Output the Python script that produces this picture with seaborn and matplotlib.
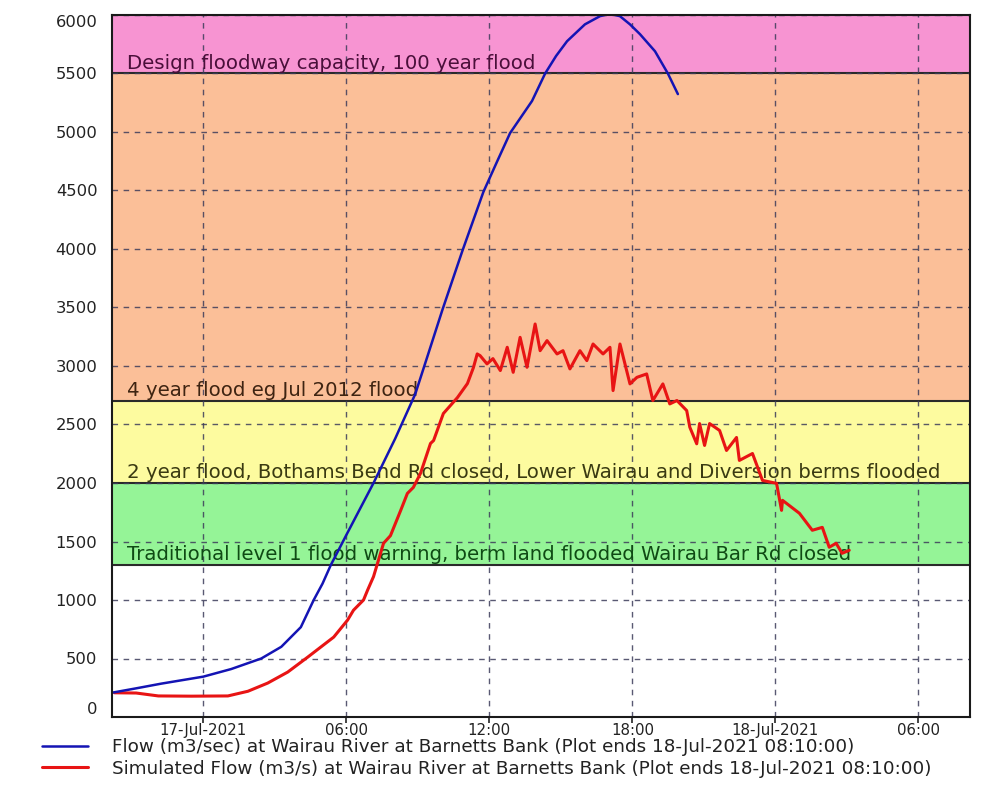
import numpy as np
import pandas as pd
import matplotlib
matplotlib.use("Agg")
import matplotlib.pyplot as plt
import matplotlib.dates as mdates
from matplotlib.ticker import FixedLocator, FuncFormatter
import seaborn as sns

# ---------------- data ----------------
base_time = "2021-07-17 00:00"
x_start = "2021-07-16 20:10"
x_end = "2021-07-18 08:10"

# Observed flow (hours after 17-Jul-2021 00:00, m3/s)
flow_hours = [-3.77, -2.82, -1.77, 0.0, 1.17, 2.43, 3.27, 4.09, 4.63, 5.0, 5.35, 6.01,
              6.60, 7.14, 8.05, 8.89, 9.43, 10.03, 10.87, 11.75, 12.33, 12.87, 13.79,
              14.34, 14.80, 15.26, 16.01, 16.64, 17.06, 17.48, 17.90, 18.32, 18.95,
              19.49, 19.91]
flow_vals = [210, 245, 285, 345, 410, 500, 600, 768, 1000, 1140, 1300, 1560,
             1790, 2000, 2380, 2760, 3100, 3480, 3985, 4488, 4750, 4991, 5265,
             5500, 5650, 5776, 5920, 5990, 6010, 5990, 5920, 5836, 5690,
             5500, 5324]

# Simulated flow
sim_hours = [-3.73, -2.82, -1.89, -0.51, 1.03, 1.87, 2.70, 3.54, 4.38, 5.47, 6.05, 6.30,
             6.72, 6.89, 7.14, 7.56, 7.85, 8.28, 8.56, 8.81, 9.11, 9.53, 9.66, 10.07,
             10.66, 11.08, 11.33, 11.49, 11.61, 11.90, 12.15, 12.46, 12.75, 13.00,
             13.29, 13.58, 13.92, 14.13, 14.42, 14.84, 15.09, 15.38, 15.80, 16.09,
             16.35, 16.77, 17.06, 17.19, 17.48, 17.90, 18.19, 18.60, 18.86, 19.28,
             19.57, 19.87, 20.28, 20.41, 20.70, 20.82, 21.03, 21.24, 21.66, 21.95,
             22.37, 22.49, 23.04, 23.46, 24.05, 24.26, 24.30, 25.01, 25.55, 25.97,
             26.26, 26.55, 26.80, 27.10]
sim_vals = [207, 205, 180, 178, 180, 220, 290, 384, 512, 683, 828, 913,
            1000, 1084, 1200, 1485, 1550, 1766, 1911, 1962, 2082, 2338, 2363, 2594,
            2730, 2850, 2986, 3103, 3089, 3018, 3063, 2961, 3160, 2946,
            3245, 2989, 3359, 3131, 3217, 3103, 3131, 2975, 3131, 3046,
            3188, 3103, 3160, 2790, 3188, 2847, 2903, 2932, 2705, 2847,
            2676, 2705, 2619, 2477, 2335, 2508, 2321, 2508, 2449, 2278,
            2389, 2193, 2252, 2022, 1997, 1766, 1852, 1741, 1596, 1621,
            1451, 1485, 1399, 1425]

# Flood bands
band_lows = [1300, 2000, 2700, 5500]
band_highs = [2000, 2700, 5500, 6000]
band_colors = ["#95f497", "#fdfb9f", "#fbbf98", "#f794d2"]
band_text_colors = ["#0f4a14", "#3a3a12", "#3e2412", "#4a0f3a"]
band_labels = [
    "Traditional level 1 flood warning, berm land flooded Wairau Bar Rd closed",
    "2 year flood, Bothams Bend Rd closed, Lower Wairau and Diversion berms flooded",
    "4 year flood eg Jul 2012 flood",
    "Design floodway capacity, 100 year flood",
]

y_ticks = [0, 500, 1000, 1500, 2000, 2500, 3000, 3500, 4000, 4500, 5000, 5500, 6000]

flow_label = "Flow (m3/sec) at Wairau River at Barnetts Bank (Plot ends 18-Jul-2021 08:10:00)"
sim_label = "Simulated Flow (m3/s) at Wairau River at Barnetts Bank (Plot ends 18-Jul-2021 08:10:00)"

# ---------------- build frames ----------------
t0 = pd.Timestamp(base_time)
df_flow = pd.DataFrame({"time": t0 + pd.to_timedelta(flow_hours, unit="h"), "flow": flow_vals})
df_sim = pd.DataFrame({"time": t0 + pd.to_timedelta(sim_hours, unit="h"), "flow": sim_vals})

sns.set_style("white")
plt.rcParams["font.family"] = ["DejaVu Sans"]

fig = plt.figure(figsize=(10.03, 7.87), dpi=100)
ax = fig.add_axes([112 / 1003, 1 - 717 / 787, (970 - 112) / 1003, (717 - 15) / 787])

xs, xe = pd.Timestamp(x_start), pd.Timestamp(x_end)

# bands
for lo, hi, c, tc, lab in zip(band_lows, band_highs, band_colors, band_text_colors, band_labels):
    ax.axhspan(lo, hi, color=c, zorder=0, lw=0)
    ax.axhline(lo, color="#2a2a2a", lw=1.5, zorder=2)
    ax.text(0.018, lo + 8, lab, transform=ax.get_yaxis_transform(), fontsize=14.2,
            color=tc, ha="left", va="bottom", zorder=3)

# grid
ax.set_axisbelow(False)
ax.grid(True, which="major", axis="both", color="#3c3c5a", linestyle=(0, (4, 4)),
        lw=1.0, alpha=0.85, zorder=1)

sns.lineplot(data=df_flow, x="time", y="flow", ax=ax, color="#1414b4", lw=1.8,
             label=flow_label, zorder=5)
sns.lineplot(data=df_sim, x="time", y="flow", ax=ax, color="#e81414", lw=2.2,
             label=sim_label, zorder=4)

ax.set_xlim(xs, xe)
ax.set_ylim(0, 6000)

ax.xaxis.set_major_locator(mdates.HourLocator(byhour=[0, 6, 12, 18]))


def fmt_date(x, pos):
    d = mdates.num2date(x)
    if d.hour == 0 and d.minute == 0:
        return d.strftime("%d-%b-%Y")
    return d.strftime("%H:%M")


ax.xaxis.set_major_formatter(FuncFormatter(fmt_date))
ax.yaxis.set_major_locator(FixedLocator(y_ticks))
ax.set_xlabel("")
ax.set_ylabel("")
ax.tick_params(axis="x", length=4, width=1.2, color="#222222", labelsize=10.8, pad=0.5,
               labelcolor="#222222", direction="out", bottom=True)
ax.tick_params(axis="y", length=0, labelsize=11.8, pad=10.5, labelcolor="#222222", left=True)

for s in ax.spines.values():
    s.set_color("#1a1a1a")
    s.set_linewidth(1.5)
    s.set_zorder(6)

yt = ax.yaxis.get_major_ticks()
yt[0].label1.set_va("bottom")
yt[-1].label1.set_va("top")

ax.legend_.remove()
h, l = ax.get_legend_handles_labels()
fig.legend(h, l, loc="upper left", bbox_to_anchor=(42 / 1003, 1 - 738 / 787),
           frameon=False, fontsize=13.2, handlelength=2.5, handletextpad=1.3,
           labelspacing=0.2, borderpad=0, borderaxespad=0, labelcolor="#222222")

fig.savefig("out.png", dpi=100)
